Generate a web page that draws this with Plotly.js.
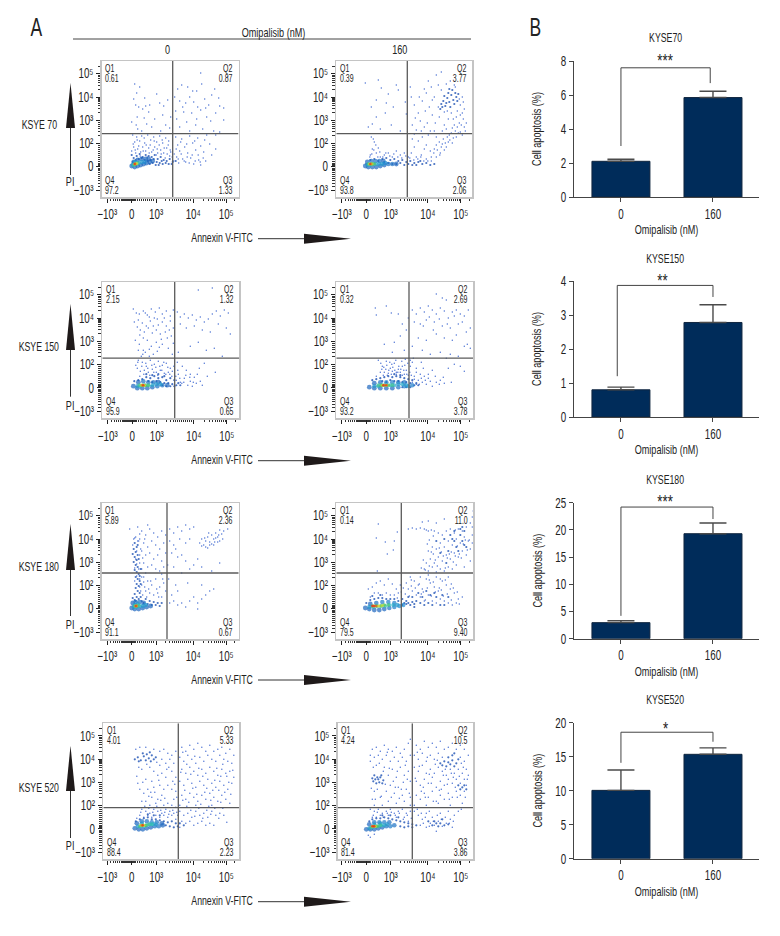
<!DOCTYPE html>
<html><head><meta charset="utf-8">
<script src="https://cdn.plot.ly/plotly-3.0.1.min.js"></script>
<style>html,body{margin:0;padding:0;background:#fff}#c{width:780px;height:936px}</style>
</head><body><div id="c"></div>
<script>
/* ---------- DATA: bar panels ---------- */
const barTitles=['KYSE70','KYSE150','KYSE180','KYSE520'];
const doseLabels=['0','160'];
const kyse70_means=[2.1,5.85],kyse70_errs=[0.12,0.37];
const kyse150_means=[0.8,2.78],kyse150_errs=[0.08,0.52];
const kyse180_means=[2.95,19.3],kyse180_errs=[0.35,1.96];
const kyse520_means=[10.05,15.35],kyse520_errs=[3.0,0.95];
const sigStars=['***','**','***','*'];
const bracketX=[[0,0,0.97,0.97],[-0.04,-0.04,1,1],[0,0,1,1],[0,0,1,1]];
const bracketY=[[3.0,7.6,7.6,6.7],[1.2,3.87,3.87,3.53],[4.2,24.2,24.2,22],[14.1,18.6,18.6,17.2]];
const barYMax=[8,4,25,20];
const barYTicks=[[0,2,4,6,8],[0,1,2,3,4],[0,5,10,15,20,25],[0,5,10,15,20]];

/* ---------- DATA: flow panels (axis channels) ---------- */
const xMajor=[5.5,30,54.5,91.5,124.5];
const yMajor=[7,30.5,54,77,100,123.5];
const xLabels=['\u221210\u00B3','0','10\u00B3','10\u2074','10\u2075'];
const yLabels=['\u221210\u00B3','0','10\u00B2','10\u00B3','10\u2074','10\u2075'];
const xMinor=[9,12,14,16,18,20,21,22,23,24,25,26,27,28,29,31,32,33,34,36,38,40,42,44,46,48,50,52,64,68,71,73,75,77,79,81,83,85,87,89,102,107,110,113,115,117,119,121,123,133];
const yMinor=[11,14,17,19,21,23,25,27,28,29,32,33,34,36,38,40,42,44,46,48,50,52,62,66,69,71,73,75,85,89,92,94,96,97,98,99,108,112,115,117,119,121,122,131];
const quadLabels=['Q1','Q2','Q3','Q4'];

const kyse70_0_pct=['0.61','0.87','1.33','97.2'];
const kyse70_0_sparse=[[33,113],[38,110],[35,104],[32,98],[34,92],[37,90],[41,88],[44,91],[48,92],[43,99],[55,103],[58,94],[62,91],[66,97],[30,75],[36,68],[40,66],[45,73],[50,70],[53,78],[59,66],[64,72],[68,69],[80,112],[76,108],[86,110],[95,106],[100,113],[110,102],[117,99],[122,89],[113,108],[88,100],[92,95],[96,90],[84,94],[78,96],[103,98],[107,92],[74,86],[82,85],[90,84],[99,87],[105,80],[114,84],[122,77],[85,75],[94,72],[78,70],[88,66],[101,68],[112,66],[118,65],[126,120],[99,124],[74,60],[80,58],[88,61],[96,59],[105,62],[114,62],[76,52],[83,50],[91,54],[99,51],[108,53],[114,48],[78,46],[86,44],[94,47],[102,45],[110,42],[75,40],[81,38],[89,39],[97,37],[104,36],[72,36],[77,34],[84,35],[92,33],[99,32],[31,62],[35,60],[40,61],[46,62],[52,60],[58,61],[64,59],[33,55],[38,56],[43,54],[49,57],[55,55],[61,54],[67,56],[32,50],[36,48],[41,50],[47,49],[53,50],[59,47],[65,49],[69,45],[30,46],[34,44],[39,45],[44,46],[50,45],[56,44],[62,44],[68,41]];
const kyse70_0_extra=[[31.5,53],[33.5,47],[35.5,57],[37,51],[38.5,41],[41.5,46],[42.5,59],[44.5,52],[45.5,40],[47.5,44],[48.5,52],[51.5,47],[52.5,56],[54.5,42],[55.5,48],[57.5,52],[59.5,43],[60.5,57],[62.5,49],[63.5,39],[65.5,43],[66.5,52],[68.5,47],[70.5,40],[72.5,43],[74.5,48],[76.5,38],[79.5,43],[82.5,36],[85.5,40],[87.5,34],[90.5,42],[93.5,36],[96.5,42],[98.5,35],[101.5,39],[79,55],[85,53],[93,56],[103,57],[34.5,72],[42.5,79],[47,85],[61,82],[69,80],[75,78],[81,90],[95,78],[104,89],[109,76],[118,91],[91,106],[73,100],[35.5,80]];
const kyse70_0_dense=[[30,42],[32,39],[35,41],[38,43],[41,40],[44,42],[47,41],[50,40],[53,42],[56,38],[59,40],[62,37],[65,36],[68,38],[71,35],[74,36],[31,35],[34,37],[37,38],[40,39],[43,37],[46,36],[49,37],[52,38],[55,35],[58,34],[61,33],[64,34],[67,33],[70,33],[48,33],[51,34],[54,32],[57,32],[60,36]];
const kyse70_0_core=[[30,31,.1],[33,30,.1],[36,31,.1],[39,32,.1],[42,33,.1],[45,34,.1],[48,35,.1],[51,36,.1],[36,37,.1],[40,38,.1],[44,38,.1],[32,35,.1],[47,38,.1],[31,32,.3],[34,33,.35],[37,34,.35],[40,35,.3],[33,35,.3],[43,35,.25],[32,32,.5],[34,33,.6],[36,34,.5],[33,33,.75],[35,33.5,.8],[33.5,33,.9],[33,33,1]];

const kyse70_160_pct=['0.39','3.77','2.06','93.8'];
const kyse70_160_sparse=[[29,114],[42,117],[45,109],[40,97],[35,90],[32,70],[60,112],[62,107],[50,94],[57,90],[69,95],[40,80],[49,84],[70,83],[36,73],[44,68],[55,72],[64,66],[52,103],[75,100],[78,92],[82,84],[86,96],[90,104],[95,110],[100,122],[105,125],[92,116],[84,76],[76,72],[88,70],[96,82],[102,90],[80,67],[94,66],[108,72],[112,78],[98,100],[110,113],[118,112],[126,100],[124,92],[128,88],[130,74],[126,84],[88,108],[74,110],[106,66],[116,69],[98,48],[100,52],[103,55],[105,50],[107,58],[109,54],[111,60],[113,62],[115,64],[117,59],[119,66],[121,70],[123,74],[125,72],[127,78],[122,64],[118,72],[112,55],[120,80],[124,82],[128,70],[75,44],[78,50],[82,56],[86,60],[90,52],[94,46],[80,40],[85,42],[90,38],[95,36],[100,40],[104,44],[88,48],[76,58],[92,62],[100,60],[108,47],[34,42],[36,48],[38,55],[35,60],[40,44],[44,40],[48,42],[52,44],[56,40],[60,46],[64,42],[68,44],[72,40],[37,58],[42,49]];
const kyse70_160_extra=[[33.5,40],[35.5,43],[37.5,47],[39.5,52],[41.5,40],[43.5,45],[46.5,40],[49.5,44],[53.5,41],[57.5,43],[61.5,40],[65.5,39],[69.5,41],[73.5,39],[77.5,37],[81.5,38],[84.5,40],[87.5,36],[91.5,36],[95,40],[97.5,44],[101,47],[103.5,42],[106,53],[110,50],[113.5,57],[116,54],[120,60],[124,65],[126,62],[129,66],[127,95],[121,86],[115,84],[108,85],[103,80],[99,74],[93,90],[83,100],[79,79],[89,86],[105,107],[111,86],[117,78],[123,98],[119,110],[114,116],[102,112],[96,97],[91,74],[85,66],[78,63],[98,66],[110,68]];
const kyse70_160_dense=[[105,93],[107,96],[109,91],[111,99],[113,95],[115,102],[117,97],[119,104],[112,104],[116,107],[120,100],[108,101],[110,94],[114,90],[118,93],[122,103],[106,90],[113,108],[104,88],[121,96],[30,33],[34,37],[38,38],[42,36],[46,38],[50,39],[54,37],[58,38],[62,36],[66,37],[70,35],[74,36],[78,34],[82,35],[86,33],[90,34],[94,32],[98,33],[48,35],[52,34],[56,33],[60,33],[64,34],[68,32],[72,33],[76,32],[80,32],[84,36]];
const kyse70_160_core=[[29,31,.1],[32,30,.1],[36,30,.1],[40,30,.1],[44,31,.1],[48,32,.1],[52,33,.15],[56,33,.15],[60,33,.1],[31,35,.1],[35,36,.15],[39,36,.15],[43,36,.15],[47,36,.1],[31,32,.3],[34,32,.35],[37,33,.35],[40,33,.35],[43,33,.3],[46,33,.3],[49,34,.25],[32,33,.5],[35,33,.55],[38,33,.55],[36,33,.7],[33,33,.75],[35,33,.85],[34,33,1]];

const kyse150_0_pct=['2.15','1.32','0.65','95.9'];
const kyse150_0_sparse=[[31,109],[34,105],[37,104],[41,107],[45,103],[49,109],[53,106],[57,110],[60,104],[64,107],[68,102],[71,108],[32,96],[36,98],[40,95],[44,92],[48,97],[52,100],[56,93],[60,96],[64,92],[68,97],[71,90],[38,88],[42,86],[46,90],[50,85],[54,88],[58,84],[63,86],[69,82],[33,78],[37,74],[45,78],[49,72],[54,76],[60,74],[66,70],[43,66],[47,62],[41,68],[51,64],[55,67],[39,62],[75,106],[78,101],[82,104],[86,100],[90,103],[94,98],[98,101],[102,96],[106,99],[110,104],[114,107],[118,102],[122,108],[126,105],[78,94],[84,90],[92,92],[100,88],[108,86],[116,94],[124,90],[128,84],[88,72],[96,76],[104,68],[112,70],[120,62],[110,130],[96,128],[76,66],[75,56],[80,52],[84,48],[88,44],[92,41],[97,50],[102,55],[76,44],[82,40],[88,37],[94,35],[100,33],[74,38],[78,36],[90,32],[105,42],[113,46],[36,58],[40,56],[44,52],[48,58],[52,54],[56,57],[60,53],[64,55],[68,50],[35,50],[38,47],[42,48],[46,46],[50,49],[54,46],[58,48],[62,45],[66,46],[70,47]];
const kyse150_0_extra=[[33.5,53],[35.5,56],[37.5,42],[39.5,52],[41.5,44],[43.5,55],[45.5,50],[47.5,43],[49.5,53],[51.5,46],[53.5,51],[55.5,43],[57.5,52],[59.5,48],[61.5,56],[63.5,44],[65.5,51],[67.5,44],[69.5,42],[71.5,52],[73.5,42],[75.5,48],[77.5,40],[79.5,35],[81.5,36],[83.5,43],[85.5,33],[87.5,41],[91,36],[95,44],[98,37],[37.5,83],[41,80],[47,101],[55,99],[59,79],[67,88],[71,75],[35,91],[43,105],[51,92],[62,100],[65,80],[70,64],[57,71],[47,69],[40.5,64],[36,68]];
const kyse150_0_dense=[[32,37],[36,38],[40,39],[44,41],[48,40],[52,42],[56,40],[60,41],[64,38],[68,40],[72,38],[76,35],[46,37],[50,36],[54,37],[58,36],[62,35],[66,35],[70,34],[74,33],[60,33],[64,32],[68,32],[72,32],[78,33],[44,44],[50,43],[56,44],[62,42]];
const kyse150_0_core=[[31,32,.1],[35,30,.1],[40,30,.1],[45,30,.1],[50,31,.1],[55,32,.15],[60,33,.15],[65,33,.1],[36,36,.1],[41,37,.15],[46,36,.15],[51,36,.15],[56,36,.1],[35,32,.3],[38,32,.35],[42,33,.4],[46,33,.4],[50,33,.35],[54,34,.3],[58,34,.3],[37,33,.5],[40,33,.6],[43,33,.6],[46,33,.55],[39,33,.75],[42,33,.8],[40,33,.9],[41,33,1]];

const kyse150_160_pct=['0.32','2.69','3.78','93.2'];
const kyse150_160_sparse=[[76,108],[80,104],[84,110],[88,106],[92,112],[96,108],[100,104],[104,110],[108,107],[112,100],[116,106],[120,108],[124,104],[128,102],[132,108],[78,96],[84,94],[90,98],[98,96],[106,92],[114,90],[122,94],[130,86],[134,90],[82,80],[90,78],[100,84],[108,80],[116,78],[128,72],[134,70],[76,72],[86,68],[94,64],[104,66],[114,64],[122,62],[100,124],[106,120],[110,118],[39,110],[50,112],[55,105],[62,104],[40,103],[58,76],[64,82],[48,74],[68,68],[70,88],[66,94],[56,66],[72,100],[76,56],[80,50],[84,44],[88,42],[92,40],[96,48],[100,36],[104,38],[108,35],[112,50],[118,54],[124,52],[128,47],[110,60],[78,42],[82,38],[86,36],[90,34],[96,32],[76,36],[80,34],[42,58],[46,52],[50,57],[54,50],[58,55],[62,49],[66,52],[70,48],[74,52],[48,46],[52,45],[56,47],[60,44],[64,46],[68,44],[44,46],[40,42]];
const kyse150_160_extra=[[44.5,55],[47.5,51],[50.5,53],[53.5,56],[56.5,51],[59.5,58],[62.5,52],[65.5,57],[68.5,53],[71.5,55],[45.5,49],[49.5,49],[52.5,48],[55.5,54],[58.5,48],[61.5,46],[64.5,49],[67.5,48],[70.5,44],[73.5,46],[47,43],[51,43],[55,44],[60,46],[66,43],[72,43],[75,43],[78,39],[80,46],[83,34],[85,40],[87,50],[89,38],[92,44],[94,37],[99,42],[103,34],[107,41],[115,36],[77,60],[74,58],[69,59],[85,56],[97,88],[111,94],[118,102],[126,96],[93,101],[87,92],[103,99],[131,74],[120,83]];
const kyse150_160_dense=[[36,38],[40,39],[44,40],[48,41],[52,42],[56,41],[60,42],[64,41],[68,40],[72,39],[76,38],[80,35],[46,37],[50,36],[54,38],[58,37],[62,37],[66,36],[70,36],[74,35],[78,33],[82,33],[66,31],[70,31],[74,31],[58,44],[64,43]];
const kyse150_160_core=[[33,31,.1],[38,30,.1],[44,30,.1],[50,30,.1],[56,30,.1],[62,31,.15],[68,32,.2],[72,32,.3],[76,33,.2],[38,35,.1],[44,36,.15],[50,36,.2],[56,36,.2],[62,36,.15],[68,36,.15],[38,32,.3],[42,32,.35],[46,33,.4],[50,33,.4],[54,33,.4],[58,33,.35],[62,34,.3],[66,34,.35],[70,33,.3],[42,33,.5],[45,33,.6],[48,33,.6],[52,33,.6],[56,33,.5],[46,33,.75],[50,33,.8],[48,33,.9],[47,33,1],[50,33,1]];

const kyse180_0_pct=['5.89','2.36','0.67','91.1'];
const kyse180_0_sparse=[[40,108],[44,104],[48,110],[52,106],[56,102],[60,108],[64,104],[38,100],[42,96],[46,92],[50,98],[54,94],[58,90],[62,96],[40,88],[44,84],[48,86],[52,80],[56,84],[60,78],[64,86],[42,76],[46,72],[50,74],[54,70],[58,68],[62,72],[40,70],[44,66],[28,110],[36,112],[46,114],[34,102],[42,62],[46,58],[50,54],[54,60],[58,52],[62,56],[40,54],[44,48],[48,46],[52,44],[56,46],[60,42],[64,48],[38,52],[68,110],[72,106],[76,112],[80,108],[84,114],[88,110],[92,112],[68,98],[72,94],[78,100],[84,96],[88,100],[70,86],[76,82],[84,78],[92,74],[100,72],[110,68],[118,76],[88,70],[72,72],[98,96],[100,100],[102,94],[104,98],[106,102],[108,97],[110,104],[112,100],[114,106],[116,102],[118,109],[120,105],[122,108],[104,92],[108,94],[112,94],[116,97],[126,110],[68,36],[72,38],[76,34],[80,36],[84,32],[88,38],[92,42],[96,36],[100,40],[104,44],[108,48],[112,50],[96,30],[70,44],[76,48],[86,56],[74,54],[100,54]];
const kyse180_0_extra=[[33,101],[38,105],[37,98],[39,90],[41,81],[43,100],[40,62],[42,57],[38,60],[39,48],[41,44],[43,52],[45,42],[47,50],[49,58],[55,50],[57,42],[61,60],[35,63],[33,58],[37,70],[34,80],[35,88],[38,76],[38,84],[32,100],[31,94],[36,98],[33,71],[35,75],[106,91],[114,101],[110,95],[118,98],[100,93],[103,101],[107,106],[121,100],[113,97],[117,104],[66,74],[74,90],[80,84],[96,80],[80,66],[60,65],[67,60]];
const kyse180_0_dense=[[33,96],[35,92],[32,90],[34,87],[36,84],[33,82],[35,79],[32,77],[34,74],[36,72],[33,69],[35,67],[37,65],[34,62],[36,60],[38,58],[35,55],[37,53],[34,51],[36,48],[38,46],[33,45],[35,42],[37,40],[39,42],[34,38],[36,94],[31,85],[37,80],[39,70],[38,63],[39,55],[31,41],[33,39],[40,38],[44,40],[48,38],[52,37],[56,36],[60,36],[42,36],[46,35],[50,34],[54,34],[58,33]];
const kyse180_0_core=[[30,31,.1],[33,30,.1],[37,30,.1],[41,31,.1],[45,32,.1],[49,33,.1],[31,36,.1],[34,37,.15],[38,37,.15],[42,36,.1],[32,32,.3],[35,32,.35],[38,33,.35],[41,33,.3],[44,34,.3],[33,34,.3],[36,35,.3],[33,33,.5],[35,33,.6],[37,33.5,.5],[34,33,.75],[35,33,.9],[34,33,1]];

const kyse180_160_pct=['0.14','11.0','9.40','79.5'];
const kyse180_160_sparse=[[42,115],[40,101],[49,97],[58,98],[61,107],[57,89],[51,85],[41,68],[80,110],[84,111],[88,110],[90,109],[92,108],[95,109],[98,108],[86,117],[92,118],[100,116],[108,120],[76,111],[72,110],[88,70],[92,68],[96,72],[100,67],[104,70],[108,68],[112,72],[116,70],[120,74],[90,76],[94,80],[98,76],[102,82],[106,78],[110,84],[114,80],[118,86],[122,82],[126,88],[130,84],[134,90],[92,88],[96,92],[100,90],[104,96],[108,92],[112,98],[116,94],[120,100],[124,96],[128,102],[132,98],[136,104],[102,106],[106,104],[110,108],[114,110],[118,106],[122,110],[126,108],[130,112],[134,116],[136,122],[137,128],[136,112],[136,96],[134,78],[128,72],[74,62],[78,58],[82,54],[86,50],[90,60],[94,56],[98,52],[102,48],[106,58],[110,54],[114,50],[118,46],[122,40],[126,42],[100,62],[104,60],[76,48],[80,44],[84,42],[88,38],[92,44],[96,38],[100,36],[104,40],[108,38],[112,36],[116,34],[120,36],[72,50],[70,56],[84,62],[92,64],[112,62],[32,50],[36,52],[40,56],[44,58],[48,54],[52,60],[56,55],[60,50],[34,42],[38,46],[42,46],[46,44],[50,46],[54,44],[58,44],[62,46],[64,54]];
const kyse180_160_extra=[[93,73],[97,85],[101,73],[105,87],[109,71],[113,85],[117,77],[121,93],[125,81],[129,99],[133,99],[123,85],[119,83],[115,87],[111,81],[107,83],[103,91],[99,79],[95,87],[91,95],[87,79],[89,69],[85,71],[93,99],[97,103],[119,109],[127,95],[131,89],[75,53],[79,51],[83,55],[87,47],[91,51],[95,43],[99,47],[103,51],[107,43],[111,45],[115,39],[117,51],[121,47],[123,35],[85,45],[89,39],[93,59],[97,57],[105,49],[109,59],[115,55],[69,45],[73,43],[65,47],[61,41],[67,51],[75,59]];
const kyse180_160_dense=[[112,88],[116,100],[120,92],[124,104],[128,94],[118,98],[122,88],[126,98],[130,92],[114,104],[108,100],[104,86],[110,76],[100,98],[124,110],[126,112],[128,108],[118,108],[66,34],[68,36],[70,35],[72,36],[74,34],[76,37],[78,35],[80,38],[84,36],[88,34],[92,36],[96,34],[100,42],[94,44],[86,42],[82,46],[90,48],[98,46],[106,44],[108,34],[112,42],[104,34],[72,42],[76,42],[78,32],[30,36],[34,39],[38,40],[42,41],[46,41],[50,40],[54,40],[58,40],[62,38],[66,40],[70,38],[36,43],[44,44]];
const kyse180_160_core=[[29,31,.1],[33,30,.1],[38,29,.1],[43,29,.1],[48,30,.1],[53,31,.15],[58,32,.2],[63,33,.25],[67,34,.25],[34,35,.1],[40,36,.15],[46,37,.2],[52,37,.2],[58,36,.2],[33,32,.3],[37,32,.35],[41,33,.4],[45,33,.45],[49,33,.45],[53,34,.4],[57,34,.35],[61,34,.3],[36,33,.5],[40,33,.6],[44,33,.65],[48,34,.6],[52,34,.55],[38,33,.75],[42,33,.8],[46,33.5,.75],[37,33,.9],[40,33,.95],[38,33,1],[36,33,1]];

const kyse520_0_pct=['4.01','5.33','2.23','88.4'];
const kyse520_0_sparse=[[34,110],[38,112],[44,112],[52,110],[58,108],[62,110],[66,106],[70,104],[74,108],[60,100],[64,96],[68,100],[72,96],[58,94],[52,88],[48,92],[44,80],[50,78],[56,84],[60,86],[64,82],[70,88],[74,82],[40,90],[36,76],[38,70],[42,66],[46,70],[52,72],[58,74],[62,70],[66,74],[70,70],[74,68],[44,58],[50,62],[56,60],[60,64],[66,56],[72,60],[40,58],[48,54],[54,56],[62,54],[70,54],[74,52],[80,112],[84,108],[88,114],[92,110],[96,116],[100,112],[104,108],[108,114],[112,108],[116,110],[120,112],[124,106],[128,110],[132,104],[78,102],[82,98],[86,104],[90,100],[94,96],[98,102],[102,98],[106,104],[110,100],[114,98],[118,104],[122,100],[126,98],[130,96],[80,90],[84,86],[88,92],[92,88],[96,84],[100,90],[104,86],[108,92],[112,88],[116,84],[120,90],[124,86],[128,88],[132,82],[78,78],[82,74],[86,80],[90,76],[94,72],[98,78],[102,74],[106,80],[110,76],[114,72],[118,78],[122,74],[126,70],[130,76],[80,64],[84,60],[88,66],[92,62],[96,58],[100,64],[104,60],[108,66],[112,62],[116,58],[120,64],[124,60],[128,56],[78,54],[94,54],[110,54],[78,48],[82,44],[86,46],[90,42],[94,48],[98,44],[102,46],[106,42],[110,48],[114,44],[118,46],[122,44],[80,38],[84,36],[88,38],[92,34],[96,36],[100,38],[104,34],[108,36],[112,34],[78,32],[125,37],[40,50],[44,48],[48,46],[52,50],[56,48],[60,46],[64,50],[68,48],[72,46],[76,44],[38,44],[42,42],[46,44],[50,42],[54,44],[58,42],[62,44],[66,42],[70,44],[74,40]];
const kyse520_0_extra=[[35,83],[41,77],[47,63],[53,67],[57,79],[63,61],[67,92],[71,78],[75,62],[81,107],[85,95],[89,85],[93,103],[97,91],[101,83],[105,71],[109,59],[113,79],[117,69],[121,95],[125,83],[129,65],[83,69],[87,57],[91,71],[95,65],[99,55],[103,67],[107,53],[111,69],[115,91],[119,57],[123,67],[79,87],[81,59],[85,53],[89,49],[93,43],[97,51],[101,41],[105,49],[109,45],[113,51],[117,41],[121,51],[35,41],[39,47],[43,53],[47,51],[51,47],[55,53],[59,49],[63,47],[67,45],[71,49],[75,47],[37,92],[45,95],[55,97],[65,90],[73,75],[49,67],[59,59],[127,77],[131,89],[119,83]];
const kyse520_0_dense=[[33,100],[36,102],[39,99],[42,103],[45,105],[47,101],[49,98],[50,104],[52,100],[54,102],[44,99],[41,106],[48,107],[37,98],[34,38],[38,40],[42,41],[46,42],[50,40],[54,40],[58,39],[62,38],[66,37],[70,38],[74,36],[78,36],[68,33],[72,32],[64,34],[76,33],[82,34],[52,44],[58,44],[46,45]];
const kyse520_0_core=[[33,31,.1],[37,30,.1],[41,30,.1],[45,31,.1],[49,32,.1],[53,33,.15],[57,33,.15],[61,34,.1],[35,36,.1],[40,38,.15],[45,38,.15],[50,37,.2],[55,37,.15],[60,36,.1],[36,33,.3],[39,33,.35],[42,33,.4],[45,34,.4],[48,35,.35],[51,35,.35],[54,35,.3],[40,36,.3],[38,33,.5],[41,34,.6],[44,34,.6],[47,35,.5],[50,35,.45],[39,34,.75],[42,34,.8],[40,34,.9],[41,34,1]];

const kyse520_160_pct=['4.24','10.5','3.86','81.4'];
const kyse520_160_sparse=[[36,110],[40,112],[44,108],[48,114],[52,110],[56,108],[60,112],[64,106],[68,110],[72,116],[74,120],[34,104],[38,102],[42,104],[46,100],[50,104],[54,98],[58,102],[62,98],[66,102],[70,98],[74,104],[40,94],[48,92],[56,90],[64,92],[72,88],[52,84],[60,82],[68,84],[74,78],[54,74],[62,72],[70,70],[50,68],[58,66],[66,64],[74,62],[38,68],[44,62],[52,58],[60,56],[68,58],[36,60],[38,54],[46,54],[74,54],[34,98],[80,114],[84,110],[88,118],[92,112],[96,116],[100,112],[104,118],[108,110],[112,112],[116,116],[120,110],[124,114],[128,110],[132,104],[78,104],[82,100],[86,106],[90,98],[94,104],[98,100],[102,106],[106,102],[124,102],[128,98],[130,90],[78,92],[82,88],[86,94],[90,86],[94,90],[98,86],[102,92],[106,88],[110,84],[114,90],[118,86],[122,90],[126,86],[132,84],[80,78],[84,74],[88,80],[92,76],[96,82],[100,72],[104,78],[108,74],[112,80],[116,76],[120,80],[124,76],[128,80],[130,74],[80,64],[84,60],[88,66],[92,62],[96,68],[100,58],[104,64],[108,60],[112,66],[116,62],[120,68],[124,64],[128,68],[78,54],[90,54],[102,56],[114,54],[126,56],[78,48],[82,44],[86,40],[90,46],[94,36],[98,34],[102,38],[106,33],[110,36],[114,40],[118,44],[122,48],[84,34],[90,32],[96,42],[104,46],[112,48],[116,32],[100,28],[125,50],[34,50],[38,48],[42,50],[46,46],[50,48],[54,50],[58,46],[62,48],[66,50],[70,46],[74,48],[36,42],[40,42],[34,22],[38,25],[32,24],[44,44],[52,44],[60,42],[68,42],[72,38]];
const kyse520_160_extra=[[35,71],[41,70],[45,63],[49,75],[53,91],[57,78],[61,88],[65,70],[69,94],[73,66],[37,92],[43,96],[47,88],[51,107],[55,62],[59,72],[63,61],[67,77],[71,80],[39,60],[79,81],[83,93],[87,72],[91,102],[95,76],[99,95],[103,69],[107,84],[111,75],[115,86],[119,72],[123,83],[127,92],[131,80],[81,107],[85,68],[89,62],[93,85],[97,58],[101,99],[105,70],[109,90],[113,60],[117,82],[121,62],[125,96],[129,62],[81,50],[85,46],[89,42],[93,48],[97,38],[101,44],[105,40],[109,42],[113,36],[117,38],[87,36],[93,33],[37,44],[41,47],[47,42],[51,46],[55,47],[59,44],[63,46],[67,40],[71,44],[75,41]];
const kyse520_160_dense=[[37,78],[39,80],[41,82],[43,77],[45,84],[47,79],[38,84],[40,76],[42,80],[44,82],[46,76],[36,81],[104,96],[106,94],[108,98],[110,93],[112,97],[114,95],[116,99],[118,93],[120,96],[112,102],[116,104],[122,100],[118,106],[126,72],[128,74],[124,70],[130,70],[122,74],[92,38],[96,34],[100,36],[102,33],[104,36],[106,40],[108,34],[112,35],[98,38],[33,38],[36,40],[40,41],[44,41],[48,42],[52,41],[56,40],[60,39],[64,38],[68,37],[72,36],[76,35],[80,34],[64,33],[68,32],[72,33],[76,32],[46,44],[54,44],[62,42]];
const kyse520_160_core=[[30,30,.1],[34,30,.1],[38,30,.1],[42,31,.1],[46,32,.1],[50,33,.15],[54,33,.2],[58,34,.15],[33,35,.1],[38,37,.15],[43,37,.2],[48,37,.2],[53,37,.15],[33,31,.3],[36,32,.35],[39,33,.4],[42,33,.4],[45,34,.4],[48,34,.35],[51,35,.3],[38,35,.3],[44,36,.3],[35,32,.5],[38,33,.6],[41,33,.6],[44,34,.5],[36,33,.75],[39,33,.8],[37,33,.9],[38,33,1],[36,33,1]];

/* ---------- LAYOUT GEOMETRY (pixels of the page) ---------- */
const W=780,H=936,FONT='"Liberation Sans",sans-serif',TXT='#222',NARROW=0.7;
const px=v=>v/W, py=v=>1-v/H;
const panels=[
 {s:kyse70_0_sparse.concat(kyse70_0_extra),d:kyse70_0_dense,c:kyse70_0_core,p:kyse70_0_pct,box:[101.7,238.5,61,197],gate:[71,63.3],xr:[0,136.8]},
 {s:kyse70_160_sparse.concat(kyse70_160_extra),d:kyse70_160_dense,c:kyse70_160_core,p:kyse70_160_pct,box:[336.3,472.3,61,197],gate:[71,63.3],xr:[0,136]},
 {s:kyse150_0_sparse.concat(kyse150_0_extra),d:kyse150_0_dense,c:kyse150_0_core,p:kyse150_0_pct,box:[102.3,239.3,282,418.3],gate:[72.4,60],xr:[0,137]},
 {s:kyse150_160_sparse.concat(kyse150_160_extra),d:kyse150_160_dense,c:kyse150_160_core,p:kyse150_160_pct,box:[336.3,473,282,418.3],gate:[72.7,60],xr:[0,136.7]},
 {s:kyse180_0_sparse.concat(kyse180_0_extra),d:kyse180_0_dense,c:kyse180_0_core,p:kyse180_0_pct,box:[101.7,238.7,503,639],gate:[65.3,66],xr:[0,137]},
 {s:kyse180_160_sparse.concat(kyse180_160_extra),d:kyse180_160_dense,c:kyse180_160_core,p:kyse180_160_pct,box:[336.3,473,503,639],gate:[65,66],xr:[0,136.7]},
 {s:kyse520_0_sparse.concat(kyse520_0_extra),d:kyse520_0_dense,c:kyse520_0_core,p:kyse520_0_pct,box:[103.3,239.3,723.3,859.3],gate:[76.5,51.6],xr:[1.5,137.5]},
 {s:kyse520_160_sparse.concat(kyse520_160_extra),d:kyse520_160_dense,c:kyse520_160_core,p:kyse520_160_pct,box:[337.7,473,723.3,859.3],gate:[76,51.6],xr:[1.4,136.7]}
];
const barGeom=[[61,197],[281,417],[502.7,638.7],[722.7,858.7]];
const barSeries=[[kyse70_means,kyse70_errs],[kyse150_means,kyse150_errs],[kyse180_means,kyse180_errs],[kyse520_means,kyse520_errs]];
const barTitleY=[38,259,480,700],starY=[61,280,501,728],starX=[665.5,662,665,665.5],ytitleStandoff=[13,13,5,5];
const rowGeom=[ /* annexin y, PI apex, PI base, PI bottom, label y, PI text y */
 [238.7,83,128,175,125,182],[460.7,304,350,396.7,347,405],[680,524,570,616,566.7,624],[901.7,745.7,791,838,788,845.7]];
const rowLabels=['KSYE 70','KSYE 150','KSYE 180','KSYE 520'];

/* ---------- BUILD ---------- */
const traces=[],annos=[],shapes=[],layout={};
const note=(t,x,y,size,anchor)=>annos.push({text:t,x:px(x),y:py(y),xref:'paper',yref:'paper',xanchor:anchor||'center',align:anchor||'center',yanchor:'middle',showarrow:false,font:{family:FONT,size:size||12,color:TXT}});
const colorscale=[[0,'#1d4fb4'],[.25,'#1f8ad0'],[.42,'#2fc0c4'],[.6,'#55c850'],[.8,'#f2e21e'],[1,'#e8281a']];

panels.forEach((P,i)=>{
 const n=i+1,xa='x'+n,ya='y'+n,[l,r,t,b]=P.box;
 traces.push({type:'scatter',mode:'markers',xaxis:xa,yaxis:ya,x:P.s.map(q=>q[0]),y:P.s.map(q=>q[1]),marker:{size:1.5,color:'#3f68d2',opacity:.9,line:{width:0}},hoverinfo:'skip',showlegend:false});
 traces.push({type:'scatter',mode:'markers',xaxis:xa,yaxis:ya,x:P.d.map(q=>q[0]),y:P.d.map(q=>q[1]),marker:{size:2.2,color:'#2a5cb8',opacity:.85,line:{width:0}},hoverinfo:'skip',showlegend:false});
 traces.push({type:'scatter',mode:'markers',xaxis:xa,yaxis:ya,x:P.c.map(q=>q[0]),y:P.c.map(q=>q[1]),marker:{size:P.c.map(q=>5-2.5*q[2]),color:P.c.map(q=>q[2]),cmin:0,cmax:1,colorscale:colorscale,line:{width:0}},hoverinfo:'skip',showlegend:false});
 const common={showgrid:false,zeroline:false,showline:true,mirror:true,linecolor:'#c4c4c4',linewidth:1.5,ticks:'outside',ticklen:4,tickwidth:1,tickcolor:'#222',tickmode:'array',fixedrange:true,tickfont:{family:FONT,size:14,color:TXT}};
 layout['xaxis'+n]=Object.assign({},common,{domain:[px(l),px(r)],range:P.xr,anchor:ya,tickvals:xMajor,ticktext:xLabels,minor:{tickmode:'array',tickvals:xMinor,ticks:'outside',ticklen:2.5,tickcolor:'#333',tickwidth:1}});
 layout['yaxis'+n]=Object.assign({},common,{domain:[py(b),py(t)],range:[0,136],anchor:xa,tickvals:yMajor,ticktext:yLabels,minor:{tickmode:'array',tickvals:yMinor,ticks:'outside',ticklen:2.5,tickcolor:'#333',tickwidth:1}});
 const gc='#5a5a5a';
 shapes.push({type:'line',xref:xa,yref:ya,x0:P.gate[0],x1:P.gate[0],y0:0,y1:136,line:{color:gc,width:1.3}});
 shapes.push({type:'line',xref:xa,yref:ya,x0:P.xr[0],x1:P.xr[1],y0:P.gate[1],y1:P.gate[1],line:{color:gc,width:1.3}});
 note(quadLabels[0],l+1.5,t+7.5,10,'left');note(P.p[0],l+1.5,t+17,10,'left');
 note(quadLabels[1],r-3.5,t+7.5,10,'right');note(P.p[1],r-3.5,t+17,10,'right');
 note(quadLabels[2],r-3.5,b-16.5,10,'right');note(P.p[2],r-3.5,b-6.5,10,'right');
 note(quadLabels[3],l+1.5,b-16.5,10,'left');note(P.p[3],l+1.5,b-6.5,10,'left');
});

barGeom.forEach((g,i)=>{
 const n=i+9,xa='x'+n,ya='y'+n,[m,e]=barSeries[i];
 traces.push({type:'bar',xaxis:xa,yaxis:ya,x:[0,1],y:m,width:0.63,marker:{color:'#002c5a',line:{color:'#10263f',width:1}},error_y:{type:'data',symmetric:false,array:e,arrayminus:[0,0],color:'#4a4a4a',thickness:1.4,width:13.5},showlegend:false,hoverinfo:'skip'});
 traces.push({type:'scatter',mode:'lines',xaxis:xa,yaxis:ya,x:bracketX[i],y:bracketY[i],line:{color:'#444',width:1},cliponaxis:false,showlegend:false,hoverinfo:'skip'});
 const ax={showgrid:false,zeroline:false,showline:true,linecolor:'#444',linewidth:1,ticks:'outside',ticklen:4,tickwidth:1,tickcolor:'#444',fixedrange:true,tickmode:'array',tickfont:{family:FONT,size:14,color:TXT}};
 layout['xaxis'+n]=Object.assign({},ax,{domain:[px(574),px(759)],range:[-0.51,1.5],anchor:ya,tickvals:[0,1],ticktext:doseLabels,title:{text:'Omipalisib (nM)',standoff:4,font:{family:FONT,size:13,color:TXT}}});
 layout['yaxis'+n]=Object.assign({},ax,{domain:[py(g[1]),py(g[0])],range:[0,barYMax[i]],anchor:xa,tickvals:barYTicks[i],ticktext:barYTicks[i].map(String),title:{text:'Cell apoptosis (%)',standoff:ytitleStandoff[i],font:{family:FONT,size:13,color:TXT}}});
 note(barTitles[i],665,barTitleY[i],12.5);
 note(sigStars[i],starX[i],starY[i],19);
});

/* page furniture */
note('A',36,27,25);note('B',535,27,25);
note('Omipalisib (nM)',273,33,13);note('0',167,49,13);note('160',400,49,13);
shapes.push({type:'line',xref:'paper',yref:'paper',x0:px(73),x1:px(471),y0:py(39),y1:py(39),line:{color:'#444',width:1}});
const dark='#1f1a1a';
rowGeom.forEach((r,i)=>{
 const [ay,ap,ab,ad,ly,py2]=r;
 note('Annexin V-FITC',221.5,ay-0.5,12.5);
 note(rowLabels[i],39,ly,12.5);
 note('PI',70,py2,13);
 shapes.push({type:'line',xref:'paper',yref:'paper',x0:px(258),x1:px(305),y0:py(ay),y1:py(ay),line:{color:'#333',width:1}});
 shapes.push({type:'path',xref:'paper',yref:'paper',path:`M ${px(304)} ${py(ay-5)} L ${px(351)} ${py(ay)} L ${px(304)} ${py(ay+5)} Z`,fillcolor:dark,line:{color:dark,width:0}});
 shapes.push({type:'line',xref:'paper',yref:'paper',x0:px(70.5),x1:px(70.5),y0:py(ab),y1:py(ad),line:{color:'#333',width:1}});
 shapes.push({type:'path',xref:'paper',yref:'paper',path:`M ${px(66)} ${py(ab)} L ${px(70.5)} ${py(ap)} L ${px(75)} ${py(ab)} Z`,fillcolor:dark,line:{color:dark,width:0}});
});

Object.assign(layout,{width:W,height:H,margin:{l:0,r:0,t:0,b:0},paper_bgcolor:'#fff',plot_bgcolor:'#fff',showlegend:false,font:{family:FONT,color:TXT},annotations:annos,shapes:shapes,bargap:0});
/* the reference face is condensed: squeeze each real text element along its own baseline, about its anchor */
Plotly.newPlot('c',traces,layout,{displayModeBar:false,staticPlot:true}).then(()=>{
 document.querySelectorAll('#c svg text').forEach(t=>{
  if(!t.textContent) return;
  const x=parseFloat(t.getAttribute('x'))||0, old=t.getAttribute('transform')||'';
  t.setAttribute('transform',`${old} translate(${x},0) scale(${NARROW},1) translate(${-x},0)`.trim());
 });
});
</script></body></html>
